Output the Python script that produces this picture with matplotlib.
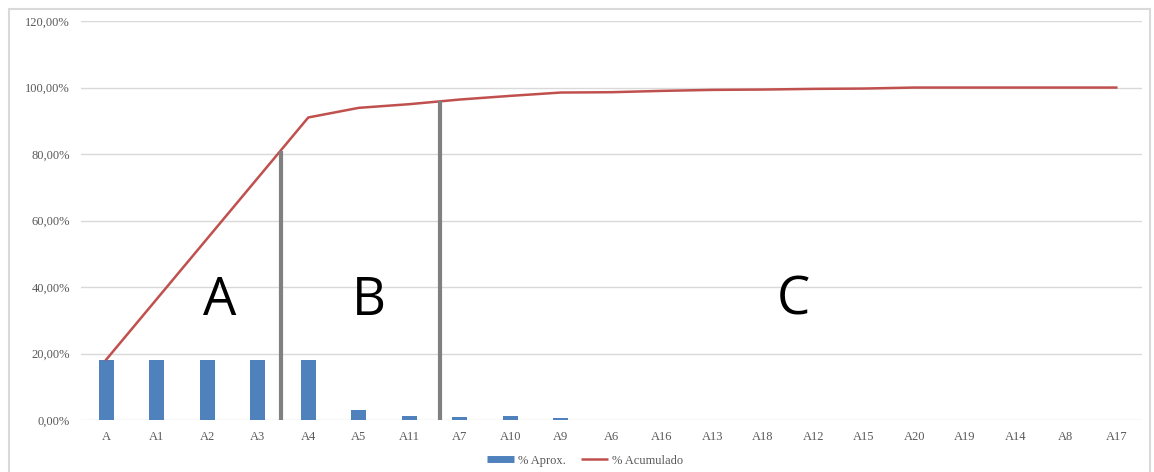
import numpy as np
import matplotlib.pyplot as plt
from matplotlib.lines import Line2D
from matplotlib.patches import Rectangle

categorias = ["A", "A1", "A2", "A3", "A4", "A5", "A11", "A7", "A10", "A9", "A6",
              "A16", "A13", "A18", "A12", "A15", "A20", "A19", "A14", "A8", "A17"]
aprox = [18.2, 18.2, 18.2, 18.2, 18.2, 2.9, 1.1, 1.0, 1.1, 0.5, 0.1,
         0.0, 0.0, 0.0, 0.0, 0.0, 0.0, 0.0, 0.0, 0.0, 0.0]
acumulado = [18.2, 36.4, 54.6, 72.8, 91.0, 93.9, 95.0, 96.4, 97.5, 98.5, 98.6,
             99.0, 99.3, 99.4, 99.6, 99.7, 100.0, 100.0, 100.0, 100.0, 100.0]

# cortes ABC (posicion en x, altura)
cortes_x = [3.46, 6.6]
cortes_y = [81.0, 96.1]
zonas = ["A", "B", "C"]
zonas_x = [2.25, 5.2, 13.6]

azul = "#4F81BD"
rojo = "#C0504D"
serif = "Liberation Serif"

fig = plt.figure(figsize=(11.54, 4.72), dpi=100)
ax = fig.add_axes([0.0702, 0.110, 0.919, 0.8454])

x = np.arange(len(categorias))
ax.bar(x, aprox, width=0.3, color=azul, zorder=2)
ax.plot(x, acumulado, color=rojo, lw=1.8, zorder=3)
for cx, cy in zip(cortes_x, cortes_y):
    ax.plot([cx, cx], [0, cy], color="#808080", lw=3, zorder=4, solid_capstyle="butt")
for zx, z in zip(zonas_x, zonas):
    ax.text(zx, 35.8, z, fontsize=38, family="Open Sans", ha="center", va="center", color="black")

ax.set_xlim(-0.5, 20.5)
ax.set_ylim(0, 120)
ax.set_yticks(np.arange(0, 121, 20))
ax.set_yticklabels([("%.2f%%" % v).replace(".", ",") for v in np.arange(0, 121, 20)])
ax.set_xticks(x)
ax.set_xticklabels(categorias)
ax.grid(axis="y", color="#D9D9D9", lw=1, zorder=0)
ax.set_axisbelow(True)
for s in ax.spines.values():
    s.set_visible(False)
ax.tick_params(length=0, labelsize=9, labelcolor="#595959", pad=8)
for lab in ax.get_xticklabels() + ax.get_yticklabels():
    lab.set_family(serif)

handles = [Line2D([], [], color=azul, lw=5, solid_capstyle="butt"),
           Line2D([], [], color=rojo, lw=1.8, solid_capstyle="butt")]
fig.legend(handles, ["% Aprox.", "% Acumulado"], loc="center", bbox_to_anchor=(0.507, 0.024),
           ncol=2, frameon=False, prop={"family": serif, "size": 9}, handlelength=2.2,
           handletextpad=0.3, columnspacing=1.2, labelcolor="#595959")

fig.patches.append(Rectangle((9 / 1154, -0.05), 1141 / 1154, 1.05 - 9 / 472, transform=fig.transFigure,
                             fill=False, edgecolor="#D9D9D9", lw=1.5))

fig.savefig("out.png", dpi=100)
